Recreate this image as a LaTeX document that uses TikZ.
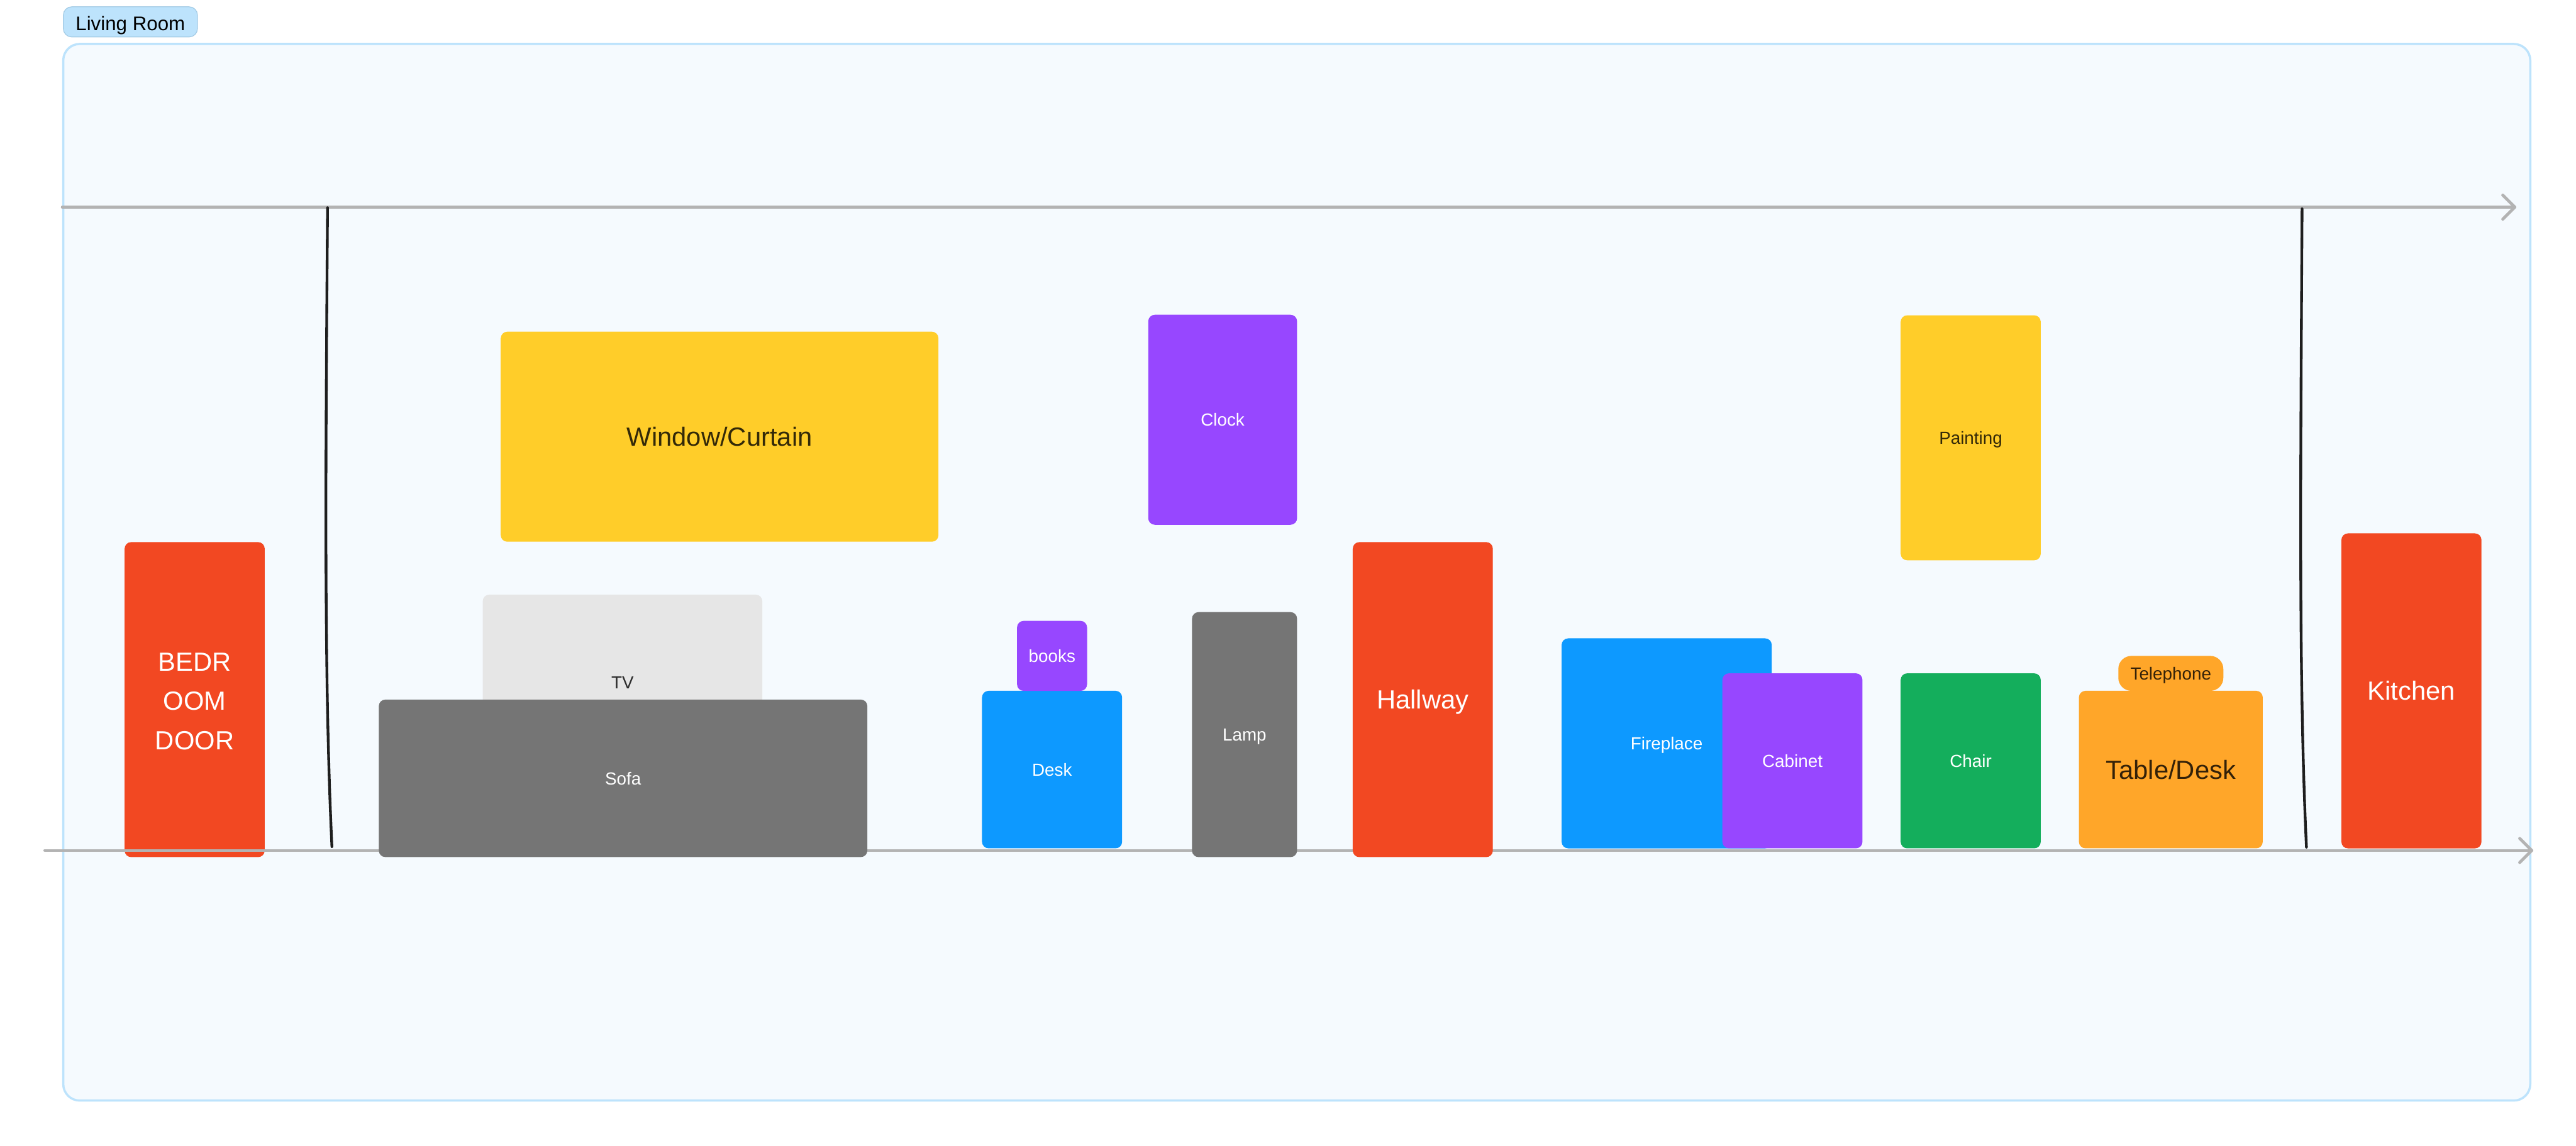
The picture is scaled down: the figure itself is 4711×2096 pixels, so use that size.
\documentclass[tikz,border=0pt]{standalone}
\usepackage{fontspec}
\setmainfont{Liberation Sans}
\definecolor{framefill}{HTML}{F5FAFE}
\definecolor{frameline}{HTML}{BDE3FC}
\definecolor{tagline}{HTML}{A3CBE5}
\definecolor{cred}{HTML}{F24822}
\definecolor{cyellow}{HTML}{FFCD29}
\definecolor{cpurple}{HTML}{9747FF}
\definecolor{cblue}{HTML}{0D99FF}
\definecolor{cgray}{HTML}{757575}
\definecolor{clight}{HTML}{E6E6E6}
\definecolor{cgreen}{HTML}{14AE5C}
\definecolor{corange}{HTML}{FFA629}
\definecolor{axiscol}{HTML}{B3B3B3}
\definecolor{ink}{HTML}{1E1E1E}
\tikzset{
  itembox/.style={rounded corners=0.12cm, inner sep=0pt, outer sep=0pt, align=center},
  item/.style={itembox, text depth=0pt},
  bigtxt/.style={font=\fontsize{13.66pt}{20.49pt}\selectfont, text height=9.78pt},
  bigmulti/.style={font=\fontsize{13.66pt}{20.49pt}\selectfont},
  smalltxt/.style={font=\fontsize{9.1pt}{11pt}\selectfont, text height=6.52pt},
  lighttxt/.style={text=white},
  darktxt/.style={text=black, text opacity=0.8},
  axisline/.style={draw=axiscol, line width=0.055cm, line cap=round, line join=round},
  wall/.style={draw=ink, line width=0.05cm, line cap=round},
}
\begin{document}
\begin{tikzpicture}[x=0.01cm, y=-0.01cm]
\useasboundingbox[fill=white] (0,0) rectangle (4711,2096);

% room frame and its tag
\node[draw=frameline, fill=framefill, line width=0.04cm, rounded corners=0.3cm,
      minimum width=45.09cm, minimum height=19.32cm, inner sep=0pt] (room) at (2371.5,1047) {};
\node[draw=tagline, fill=frameline, line width=0.4pt, rounded corners=0.15cm,
      minimum width=2.45cm, minimum height=0.55cm, inner sep=0pt,
      text height=9pt, text depth=0pt, text=black,
      font=\fontsize{10.24pt}{12pt}\selectfont] (tag) at (238.5,40) {Living Room};

% bedroom door (under the floor line)
\node[itembox, fill=cred, minimum width=2.56cm, minimum height=5.76cm, bigmulti, lighttxt] (bed) at (356,1280) {};
\node[align=center, inner sep=0pt, bigmulti, lighttxt] (bedtxt) at (356,1283) {BEDR\\OOM\\DOOR};

% wall / floor lines
\coordinate (t1) at (114,379);
\coordinate (t2) at (4599,379);
\coordinate (b1) at (82,1556);
\coordinate (b2) at (4630,1556);
\draw[axisline] (t1) -- (t2);
\draw[axisline] (t2) ++(-22,-22) -- (t2) -- ++(-22,22);
\draw[axisline] (b1) -- (b2);
\draw[axisline] (b2) ++(-22,-22) -- (b2) -- ++(-22,22);

\coordinate (w1a) at (599,380);
\coordinate (w1b) at (607,1549);
\coordinate (w2a) at (4210,382);
\coordinate (w2b) at (4218,1550);
\draw[wall] (w1a) .. controls (595,900) and (593,1250) .. (w1b);
\draw[wall] (w2a) .. controls (4207,900) and (4204,1250) .. (w2b);

% furniture
\node[item, fill=cyellow, minimum width=8cm, minimum height=3.84cm, bigtxt, darktxt] (win) at (1316,799) {Window/Curtain};
\node[item, fill=clight, minimum width=5.11cm, minimum height=3.2cm, smalltxt, darktxt] (tv) at (1138.5,1248) {TV};
\node[item, fill=cgray, minimum width=8.93cm, minimum height=2.88cm, smalltxt, lighttxt] (sofa) at (1139.5,1424) {Sofa};
\node[item, fill=cblue, minimum width=2.56cm, minimum height=2.88cm, smalltxt, lighttxt] (desk) at (1924,1408) {Desk};
\node[item, fill=cpurple, minimum width=1.28cm, minimum height=1.28cm, smalltxt, lighttxt] (books) at (1924,1200) {books};
\node[item, fill=cpurple, minimum width=2.72cm, minimum height=3.84cm, smalltxt, lighttxt] (clock) at (2236,768) {Clock};
\node[item, fill=cgray, minimum width=1.92cm, minimum height=4.48cm, smalltxt, lighttxt] (lamp) at (2276,1344) {Lamp};
\node[item, fill=cred, minimum width=2.56cm, minimum height=5.76cm, bigtxt, lighttxt] (hall) at (2602,1280) {Hallway};
\node[item, fill=cblue, minimum width=3.84cm, minimum height=3.84cm, smalltxt, lighttxt] (fire) at (3048,1360) {Fireplace};
\node[item, fill=cpurple, minimum width=2.56cm, minimum height=3.2cm, smalltxt, lighttxt] (cab) at (3278,1392) {Cabinet};
\node[item, fill=cyellow, minimum width=2.56cm, minimum height=4.48cm, smalltxt, darktxt] (paint) at (3604,801) {Painting};
\node[item, fill=cgreen, minimum width=2.56cm, minimum height=3.2cm, smalltxt, lighttxt] (chair) at (3604,1392) {Chair};
\node[item, fill=corange, minimum width=3.36cm, minimum height=2.88cm, bigtxt, darktxt] (table) at (3970,1408) {Table/Desk};
\node[item, fill=corange, rounded corners=0.24cm, minimum width=1.92cm, minimum height=0.64cm, smalltxt, darktxt] (phone) at (3970,1232) {Telephone};
\node[item, fill=cred, minimum width=2.56cm, minimum height=5.76cm, bigtxt, lighttxt] (kitchen) at (4410,1264) {Kitchen};
\end{tikzpicture}
\end{document}
